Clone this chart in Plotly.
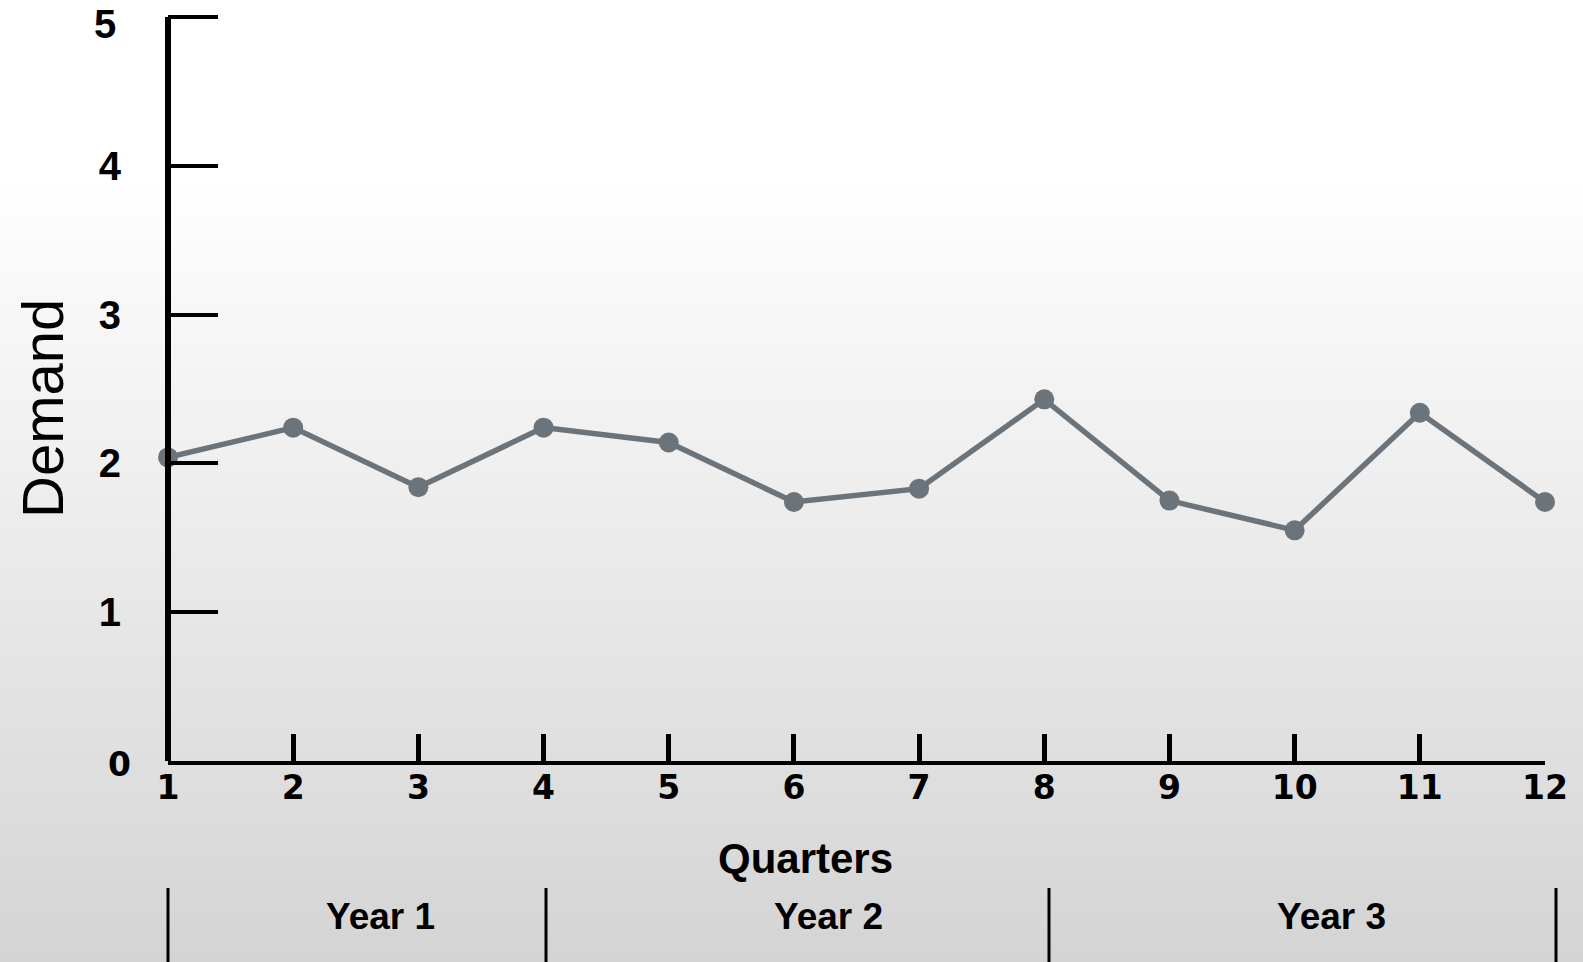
import plotly.graph_objects as go

# Quarterly demand over three years
quarters = list(range(1, 13))
demand = [2.04, 2.24, 1.84, 2.24, 2.14, 1.74, 1.83, 2.43, 1.75, 1.55, 2.34, 1.74]

y_ticks = [1, 2, 3, 4, 5]
y_tick_text = ["1", "2", "3", "4", "5"]

years = ["Year 1", "Year 2", "Year 3"]

W, H = 1583, 962
Y_TOP = 5.1
L, R, B = 168, 38, 201
T = round(H - B - (H - B - 17) * Y_TOP / 5)
PW, PH = W - L - R, H - T - B


def px_x(px):
    return (px - L) / PW


def px_y(py):
    return (H - B - py) / PH


fig = go.Figure()
fig.add_trace(go.Scatter(
    x=quarters, y=demand, mode="lines+markers",
    line=dict(color="#6b737b", width=5.5),
    marker=dict(color="#6b737b", size=20),
    cliponaxis=False, showlegend=False,
))

shapes = []
# soft vertical gradient from white to light grey
g_start, g_end, step = 170, H, 6
y = g_start
while y < g_end:
    t = (y + step / 2 - g_start) / (g_end - g_start)
    c = round(255 - 43 * t)
    shapes.append(dict(type="rect", xref="paper", yref="paper",
                       x0=px_x(-5), x1=px_x(W + 5), y0=px_y(y + step + 0.5), y1=px_y(y),
                       fillcolor=f"rgb({c},{c},{c})", line=dict(width=0), layer="below"))
    y += step

# vertical axis line, centred on the first quarter, up to the top tick
shapes.append(dict(type="line", xref="paper", yref="y",
                   x0=0, x1=0, y0=-0.012, y1=5,
                   line=dict(color="black", width=6), layer="above"))

# year separators
for sx in [168, 546, 1049, 1556]:
    shapes.append(dict(type="line", xref="paper", yref="paper",
                       x0=px_x(sx), x1=px_x(sx), y0=px_y(888), y1=px_y(H + 5),
                       line=dict(color="black", width=3)))

tick_font = dict(family="Liberation Sans", size=40, color="black", weight="bold")

annotations = []
for label, cx in zip(years, [380, 828, 1331]):
    annotations.append(dict(text=f"<b>{label}</b>", xref="paper", yref="paper",
                            x=px_x(cx), y=px_y(917), showarrow=False,
                            xanchor="center", yanchor="middle",
                            font=dict(family="Liberation Sans", size=37, color="black")))
annotations.append(dict(text="<b>Quarters</b>", xref="paper", yref="paper",
                        x=px_x(805), y=px_y(858), showarrow=False,
                        xanchor="center", yanchor="middle",
                        font=dict(family="Liberation Sans", size=42, color="black")))
annotations.append(dict(text="Demand", xref="paper", yref="paper",
                        x=px_x(43), y=px_y(409), showarrow=False, textangle=-90,
                        xanchor="center", yanchor="middle",
                        font=dict(family="Liberation Sans", size=58, color="black")))
annotations.append(dict(text="<b>0</b>", xref="paper", yref="paper",
                        x=px_x(119), y=px_y(764), showarrow=False,
                        xanchor="center", yanchor="middle",
                        font=dict(family="DejaVu Sans", size=33, color="black")))
# top tick label sits a little below its tick so it stays on the page
annotations.append(dict(text=y_tick_text[-1], xref="paper", yref="paper",
                        x=px_x(118), y=px_y(24), showarrow=False,
                        xanchor="right", yanchor="middle", font=tick_font))

fig.update_layout(
    width=W, height=H,
    margin=dict(l=L, r=R, t=T, b=B, pad=0, autoexpand=False),
    paper_bgcolor="white", plot_bgcolor="rgba(0,0,0,0)",
    shapes=shapes, annotations=annotations,
    xaxis=dict(range=[1, 12], tickvals=quarters, ticktext=[str(q) for q in quarters],
               showgrid=False, zeroline=False, showline=True, linecolor="black", linewidth=4,
               ticks="inside", ticklen=27, tickwidth=5, tickcolor="black",
               tickfont=dict(family="DejaVu Sans", size=33, color="black", weight="bold"),
               ticklabelstandoff=-6, ticklabeloverflow="allow", automargin=False,
               layer="above traces"),
    yaxis=dict(range=[0, Y_TOP], tickvals=y_ticks, ticktext=y_tick_text[:-1] + [""],
               showgrid=False, zeroline=False, showline=False,
               ticks="inside", ticklen=50, tickwidth=4, tickcolor="black",
               tickfont=tick_font,
               ticklabelstandoff=46, ticklabeloverflow="allow", automargin=False,
               layer="above traces"),
)

fig.write_html("out.html")
